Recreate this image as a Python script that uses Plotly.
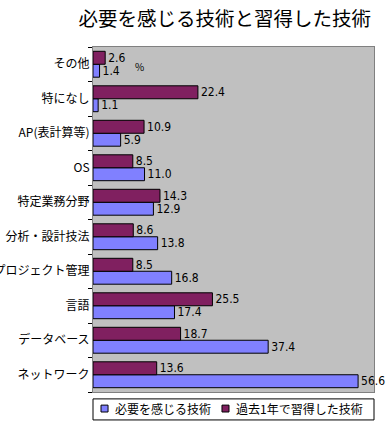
import plotly.graph_objects as go

categories = ["ネットワーク", "データベース", "言語", "プロジェクト管理", "分析・設計技法",
              "特定業務分野", "OS", "AP(表計算等)", "特になし", "その他"]
needed = [56.6, 37.4, 17.4, 16.8, 13.8, 12.9, 11.0, 5.9, 1.1, 1.4]
learned = [13.6, 18.7, 25.5, 8.5, 8.6, 14.3, 8.5, 10.9, 22.4, 2.6]
series_names = ["必要を感じる技術", "過去1年で習得した技術"]
series_colors = ["#8080FF", "#802060"]

FONT = "Noto Sans CJK JP"
NUMFONT = "Liberation Sans Narrow, DejaVu Sans Condensed, Noto Sans CJK JP"

fig = go.Figure()
for vals, name, color in zip([needed, learned], series_names, series_colors):
    fig.add_trace(go.Bar(
        y=categories, x=vals, orientation="h", name=name,
        marker=dict(color=color, line=dict(color="black", width=1)),
        text=[f"{v:.1f}" for v in vals], textposition="outside", constraintext="none",
        textfont=dict(size=12, color="black", family=NUMFONT), cliponaxis=False,
        showlegend=False,
    ))

# custom legend box (paper coordinates)
shapes = [dict(type="rect", xref="paper", yref="paper", x0=0, x1=1.0, y0=-0.081, y1=-0.020,
               line=dict(color="black", width=1), fillcolor="white", layer="above")]
annotations = []
leg_x = [0.0285, 0.459]
for lx, name, color in zip(leg_x, series_names, series_colors):
    shapes.append(dict(type="rect", xref="paper", yref="paper", x0=lx, x1=lx + 0.025,
                       y0=-0.058, y1=-0.038, line=dict(color="black", width=1),
                       fillcolor=color, layer="above"))
    annotations.append(dict(text=name, xref="paper", yref="paper", x=lx + 0.043, y=-0.048,
                            xanchor="left", yanchor="middle", showarrow=False,
                            font=dict(size=12, family=FONT, color="black")))
annotations.append(dict(text="%", xref="paper", yref="paper", x=0.142, y=0.971,
                        showarrow=False, font=dict(size=10, family=FONT)))

fig.update_layout(
    width=386, height=426,
    barmode="group", bargap=0.25, bargroupgap=0,
    paper_bgcolor="white", plot_bgcolor="#C0C0C0",
    margin=dict(l=93, r=12, t=47, b=34, autoexpand=False),
    font=dict(family=FONT, size=12, color="black"),
    title=dict(text="必要を感じる技術と習得した技術", x=0.582, xanchor="center",
               y=0.955, yanchor="middle", font=dict(size=19.5, family=FONT, color="black")),
    xaxis=dict(range=[0, 60], showticklabels=False, showgrid=False, zeroline=False,
               ticks="", showline=True, linecolor="#808080", mirror=True, fixedrange=True,
               automargin=False),
    yaxis=dict(showgrid=False, ticks="outside", ticklen=4, tickcolor="black",
               tickson="boundaries", showline=True, linecolor="#808080", mirror=True,
               tickfont=dict(size=12, family=FONT), automargin=False),
    showlegend=False,
    shapes=shapes,
    annotations=annotations,
)

fig.write_html("out.html", config={"displayModeBar": False},
               post_script="document.body.style.margin='0';")
